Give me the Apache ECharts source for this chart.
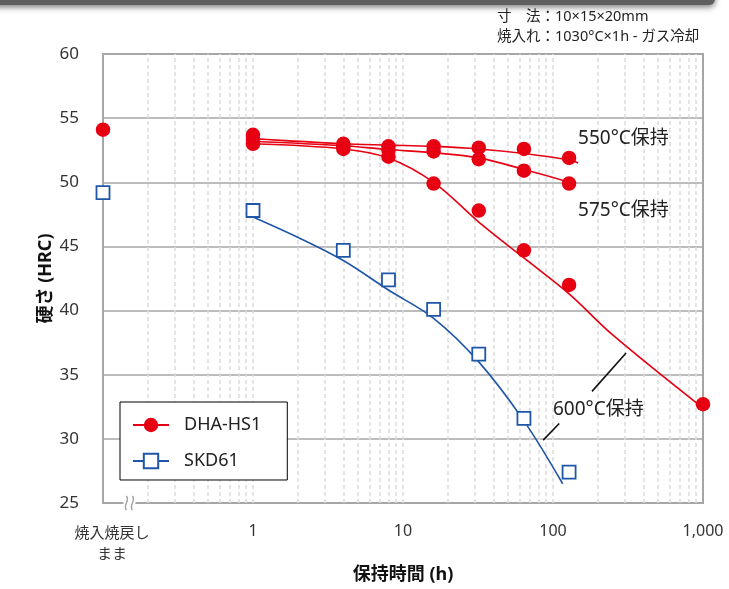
<!DOCTYPE html>
<html>
<head>
<meta charset="utf-8">
<script src="https://cdn.jsdelivr.net/npm/echarts@6/dist/echarts.min.js"></script>
<style>
  html, body { margin: 0; padding: 0; background: #fff; }
  #chart { width: 729px; height: 589px; }
</style>
</head>
<body>
<div id="chart"></div>
<script>
// Tempering hardness of DHA-HS1 vs SKD61 (HRC) against holding time (log scale)
const FONT = "'Noto Sans', 'Noto Sans CJK JP', sans-serif";
const RED = '#e60012';
const BLUE = '#1f56a8';
const FRAME = '#a6a6a6';

// x position used for the as-quenched-and-tempered state
const asTemperedX = 0.1;
// labels for the decade ticks 0.1, 1, 10, 100, 1000
const xTickLabels = ['焼入焼戻し\nまま', '1', '10', '100', '1,000'];
// dashed vertical grid (decades and their 2–9 subdivisions)
const verticalGridHours = [
  0.2, 0.3, 0.4, 0.5, 0.6, 0.7, 0.8, 0.9,
  1, 2, 3, 4, 5, 6, 7, 8, 9,
  10, 20, 30, 40, 50, 60, 70, 80, 90,
  100, 200, 300, 400, 500, 600, 700, 800, 900
];

// measured points
const holdHours = [1, 4, 8, 16, 32, 64, 128];
const dhaAsTempered = 54.1;
const skdAsTempered = 49.2;
const dha550 = [53.7, 53.0, 52.8, 52.8, 52.7, 52.6, 51.9];
const dha575 = [53.3, 52.8, 52.5, 52.4, 51.8, 50.9, 49.9];
const dha600 = [53.0, 52.6, 52.0, 49.9, 47.8, 44.7, 42.0];
const dha600LongHours = [1000];
const dha600Long = [32.7];
const skd600 = [47.8, 44.7, 42.4, 40.1, 36.6, 31.6, 27.4];

// fitted trend curves
const fit550Hours = [1, 4, 8, 16, 32, 64, 128, 147];
const fit550 = [53.4, 53.0, 52.9, 52.8, 52.6, 52.25, 51.75, 51.5];
const fit575Hours = [1, 4, 8, 16, 32, 64, 128, 136];
const fit575 = [53.2, 52.85, 52.55, 52.3, 51.9, 51.0, 50.0, 49.75];
const fit600Hours = [1, 4, 8, 16, 32, 64, 128, 250, 1000];
const fit600 = [53.0, 52.6, 51.9, 50.0, 46.9, 44.1, 41.3, 38.1, 32.4];
const fitSkdHours = [1, 2, 4, 8, 16, 32, 64, 116];
const fitSkd = [47.3, 45.7, 43.9, 41.6, 39.4, 36.0, 31.4, 26.5];

const pairs = (xs, ys) => xs.map((x, i) => [x, ys[i]]);

const dhaPoints = [[asTemperedX, dhaAsTempered]]
  .concat(pairs(holdHours, dha550), pairs(holdHours, dha575),
          pairs(holdHours, dha600), pairs(dha600LongHours, dha600Long));
const skdPoints = [[asTemperedX, skdAsTempered]].concat(pairs(holdHours, skd600));

const chart = echarts.init(document.getElementById('chart'), null, { renderer: 'canvas' });

function curve(name, xs, ys, color, symbol, itemStyle) {
  return {
    name, type: 'line', data: pairs(xs, ys), smooth: 0.35,
    symbol, symbolSize: 14, showSymbol: false, z: 3, silent: true,
    lineStyle: { color, width: 1.6 },
    itemStyle
  };
}

chart.setOption({
  animation: false,
  textStyle: { fontFamily: FONT },
  grid: { left: 103, right: 26, top: 54, bottom: 86, show: true,
          borderColor: FRAME, borderWidth: 2 },
  xAxis: {
    type: 'log', logBase: 10, min: 0.1, max: 1000,
    name: '保持時間 (h)', nameLocation: 'middle', nameGap: 63, nameMoveOverlap: false,
    nameTextStyle: { fontSize: 18, fontWeight: 'bold', color: '#111', fontFamily: FONT },
    axisLine: { show: true, lineStyle: { color: FRAME, width: 2 } },
    axisTick: { show: false },
    splitLine: { show: false },
    axisLabel: {
      fontSize: 16, color: '#333', margin: 20, fontFamily: FONT,
      formatter: (v, i) => i === 0
        ? xTickLabels[0].split('\n').map(s => '{q|' + s + '}').join('\n')
        : xTickLabels[i],
      rich: { q: { fontSize: 15, lineHeight: 21, color: '#333', padding: [0, 0, 0, 18], fontFamily: FONT } }
    }
  },
  yAxis: {
    type: 'value', min: 25, max: 60, interval: 5,
    name: '硬さ (HRC)', nameLocation: 'middle', nameGap: 48, nameRotate: 90, nameMoveOverlap: false,
    nameTextStyle: { fontSize: 18, fontWeight: 'bold', color: '#111', fontFamily: FONT },
    axisLine: { show: true, lineStyle: { color: FRAME, width: 2 } },
    axisTick: { show: false },
    splitLine: { lineStyle: { color: FRAME, width: 1.5 } },
    axisLabel: { fontSize: 17, color: '#333', margin: 24, fontFamily: FONT }
  },
  legend: {
    orient: 'vertical', left: 120, top: 402,
    data: ['DHA-HS1', 'SKD61'],
    itemWidth: 36, itemHeight: 18, itemGap: 18,
    padding: [14, 26, 10, 12],
    borderColor: '#000', borderWidth: 1, backgroundColor: '#fff',
    selectedMode: false,
    textStyle: { fontSize: 18, color: '#222', fontFamily: FONT, padding: [0, 0, 0, 10] }
  },
  series: [
    {
      name: 'vgrid', type: 'line', data: [], z: 1, silent: true,
      markLine: {
        z: 1, silent: true, symbol: ['none', 'none'], label: { show: false },
        lineStyle: { color: '#dcdcdc', width: 1.5, type: [4, 3] },
        emphasis: { disabled: true },
        data: verticalGridHours.map(h => ({ xAxis: h }))
      }
    },
    curve('DHA-HS1', fit550Hours, fit550, RED, 'circle', { color: RED }),
    curve('DHA-HS1', fit575Hours, fit575, RED, 'circle', { color: RED }),
    curve('DHA-HS1', fit600Hours, fit600, RED, 'circle', { color: RED }),
    curve('SKD61', fitSkdHours, fitSkd, BLUE, 'rect',
          { color: '#fff', borderColor: BLUE, borderWidth: 1.6 }),
    {
      name: 'DHA-HS1', type: 'scatter', data: dhaPoints, z: 4,
      symbol: 'circle', symbolSize: 14.5, itemStyle: { color: RED, opacity: 1 }
    },
    {
      name: 'SKD61', type: 'scatter', data: skdPoints, z: 4,
      symbol: 'rect', symbolSize: 13,
      itemStyle: { color: '#fff', borderColor: BLUE, borderWidth: 1.8, opacity: 1 }
    }
  ]
});

// annotations placed in data coordinates
const px = (h, v) => chart.convertToPixel({ gridIndex: 0 }, [h, v]);
const tempLabels = [
  { text: '550°C保持', at: [147, 53.4] },
  { text: '575°C保持', at: [147, 47.8] },
  { text: '600°C保持', at: [100, 32.3] }
];
const leaders = [
  [[182, 33.7], [307, 36.7]],
  [[86, 29.9], [110, 31.2]]
];
const brk = px(0.15, 25);

const graphics = [
  // dark band across the top edge
  { type: 'rect', z: 10, shape: { x: -12, y: -12, width: 727, height: 17, r: 6 },
    style: { fill: '#5f5f5f', shadowBlur: 6, shadowColor: 'rgba(0,0,0,0.55)', shadowOffsetY: 2 } },
  // specimen notes
  { type: 'text', z: 10, x: 497, y: 17,
    style: { text: '寸　法：10×15×20mm', fontSize: 14.5, fill: '#222', fontFamily: FONT, verticalAlign: 'middle' } },
  { type: 'text', z: 10, x: 497, y: 37,
    style: { text: '焼入れ：1030°C×1h - ガス冷却', fontSize: 14.5, fill: '#222', fontFamily: FONT, verticalAlign: 'middle' } },
  // axis break mark
  { type: 'rect', z: 20, shape: { x: brk[0] - 6, y: brk[1] - 3, width: 12, height: 6 }, style: { fill: '#fff' } },
  { type: 'bezierCurve', z: 21, shape: { x1: brk[0] - 3, y1: brk[1] - 7, cpx1: brk[0] + 1, cpy1: brk[1] - 2, cpx2: brk[0] - 7, cpy2: brk[1] + 2, x2: brk[0] - 3, y2: brk[1] + 7 },
    style: { stroke: FRAME, lineWidth: 1.5, fill: null } },
  { type: 'bezierCurve', z: 21, shape: { x1: brk[0] + 3, y1: brk[1] - 7, cpx1: brk[0] + 7, cpy1: brk[1] - 2, cpx2: brk[0] - 1, cpy2: brk[1] + 2, x2: brk[0] + 3, y2: brk[1] + 7 },
    style: { stroke: FRAME, lineWidth: 1.5, fill: null } }
];
tempLabels.forEach(l => {
  const p = px(l.at[0], l.at[1]);
  graphics.push({ type: 'text', z: 10, x: p[0], y: p[1],
    style: { text: l.text, fontSize: 19, fill: '#222', fontFamily: FONT, verticalAlign: 'middle' } });
});
leaders.forEach(([a, b]) => {
  const p = px(a[0], a[1]), q = px(b[0], b[1]);
  graphics.push({ type: 'line', z: 10, shape: { x1: p[0], y1: p[1], x2: q[0], y2: q[1] },
    style: { stroke: '#111', lineWidth: 1.6 } });
});
chart.setOption({ graphic: graphics });
</script>
</body>
</html>
